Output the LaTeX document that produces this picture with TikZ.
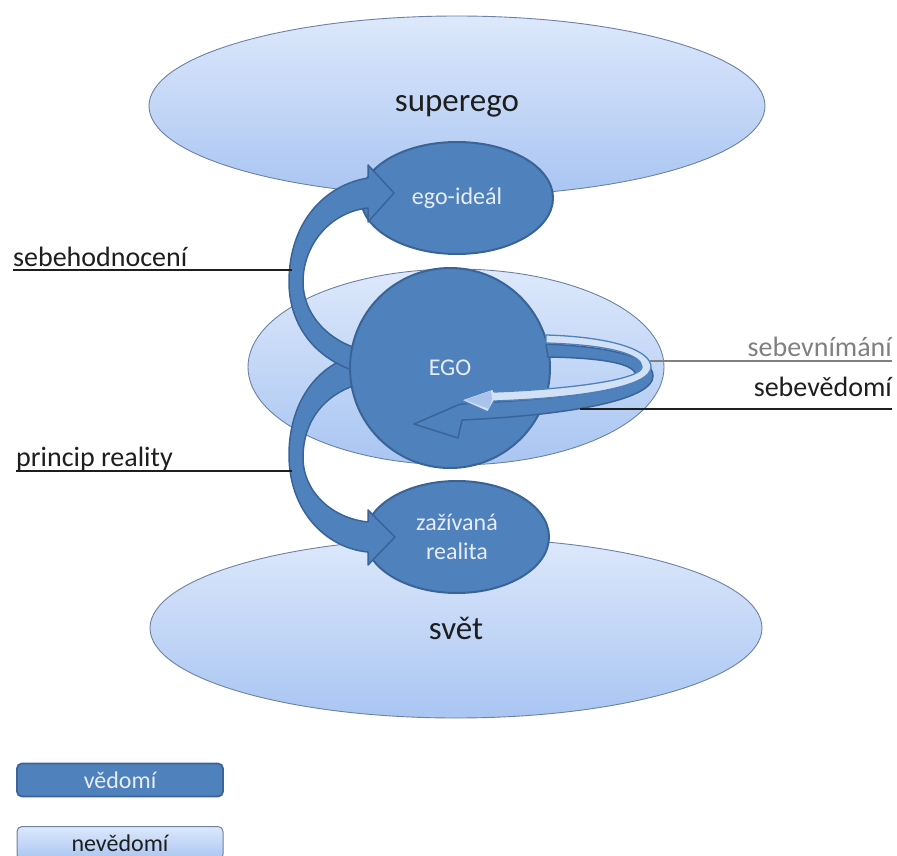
\documentclass[tikz,border=0pt]{standalone}
\usepackage{fontspec}
\setmainfont{Carlito}
\usetikzlibrary{shapes.geometric}
\definecolor{dkblue}{HTML}{4F81BD}
\definecolor{dkedge}{HTML}{3A6498}
\definecolor{ltedge}{HTML}{6C82A3}
\definecolor{lttop}{HTML}{DDE8FB}
\definecolor{ltbot}{HTML}{A9C5F2}
\definecolor{txtlight}{HTML}{E6EDF7}
\definecolor{txtdark}{HTML}{1E1E1E}
\definecolor{graytxt}{HTML}{808080}
\definecolor{bandlight}{HTML}{D3E1F6}
\definecolor{headlight}{HTML}{A9C3EA}
\begin{document}
\begin{tikzpicture}[x=1pt,y=-1pt,
  lightell/.style={ellipse, draw=ltedge, line width=0.9pt, top color=lttop, bottom color=ltbot, inner sep=0pt, text=txtdark, font=\fontsize{33}{36}\selectfont},
  darkell/.style={ellipse, draw=dkedge, line width=2pt, fill=dkblue, inner sep=0pt, text=txtlight, font=\fontsize{24}{29}\selectfont, align=center},
  band/.style={fill=dkblue, draw=dkedge, line width=1.5pt, line join=round},
  lightband/.style={fill=bandlight, draw=dkblue, line width=1.3pt, line join=round},
  lbl/.style={font=\fontsize{28}{32}\selectfont, text=txtdark, inner sep=0pt},
  lblline/.style={draw=txtdark, line width=1.5pt},
  legendbox/.style={rounded corners=5pt, minimum width=206pt, minimum height=33pt, inner sep=0pt, font=\fontsize{24}{27}\selectfont}
]
\useasboundingbox (0,0) rectangle (897,856);
\fill[white] (0,0) rectangle (897,856);

% big ellipses
\node[lightell, minimum width=616pt, minimum height=180pt] (superego) at (457,106) {superego};
\node[lightell, minimum width=612pt, minimum height=180pt] (svet) at (456,628) {svět};
\node[lightell, minimum width=416pt, minimum height=196pt] (middle) at (456,367) {};

% small dark ellipses
\node[darkell, minimum width=192pt, minimum height=112pt] (ideal) at (457,198) {ego-ideál};
\node[darkell, minimum width=184pt, minimum height=112pt] (real) at (457,537) {zažívaná\\realita};

% curved arrows on the left
\draw[band] (352,356) .. controls (310,370) and (289,410) .. (289,455)
  .. controls (289,510) and (325,548) .. (368,552) -- (368,565) -- (395,537) -- (368,510) -- (368,522)
  .. controls (330,518) and (303,490) .. (303,458)
  .. controls (303,420) and (325,395) .. (356,385) -- cycle;
\draw[band] (352,370) .. controls (310,355) and (289,320) .. (289,282)
  .. controls (289,222) and (325,185) .. (368,178) -- (368,165) -- (394,193) -- (368,222) -- (368,208)
  .. controls (330,212) and (303,245) .. (303,282)
  .. controls (303,312) and (325,338) .. (356,348) -- cycle;

% EGO
\node[darkell, circle, minimum size=200pt] (ego) at (450,368) {EGO};

% arrows on the right
\draw[band] (546,344) .. controls (615,347) and (653,358) .. (653,376)
  .. controls (653,400) and (570,415) .. (462,420) -- (458,438) -- (414,424) -- (458,405) -- (462,404)
  .. controls (560,399) and (636,390) .. (636,376)
  .. controls (636,365) and (610,358) .. (548,357) -- cycle;
\draw[lightband] (546,335) .. controls (615,337) and (651,351) .. (651,367)
  .. controls (651,387) and (580,398) .. (494,401) -- (488,412) -- (461,400) -- (493,389) -- (494,392)
  .. controls (575,389) and (642,379) .. (642,367)
  .. controls (642,355) and (612,345) .. (546,343) -- cycle;
\fill[headlight] (492,399) -- (489,409) -- (465,400) -- (491,391) -- cycle;

% labels on the left
\node[lbl, anchor=base west] (lsh) at (13,266) {sebehodnocení};
\coordinate (csh) at (292,270);
\draw[lblline] (csh -| lsh.west) -- (csh);
\node[lbl, anchor=base west] (lpr) at (16,466) {princip reality};
\coordinate (cpr) at (292,471);
\draw[lblline] (cpr -| lpr.west) -- (cpr);

% labels on the right
\node[lbl, anchor=base east, text=graytxt] (lsv) at (892,356) {sebevnímání};
\coordinate (csv) at (650,361);
\draw[draw=graytxt, line width=1.3pt] (csv) -- (csv -| lsv.east);
\node[lbl, anchor=base east] (lsd) at (892,396) {sebevědomí};
\coordinate (csd) at (580,409);
\draw[lblline] (csd) -- (csd -| lsd.east);

% legend
\node[legendbox, draw=dkedge, line width=1.8pt, fill=dkblue, text=txtlight] (ved) at (120,780) {vědomí};
\node[legendbox, draw=ltedge, line width=1pt, top color=lttop, bottom color=ltbot, text=txtdark] (neved) at (120,843) {nevědomí};
\end{tikzpicture}
\end{document}
